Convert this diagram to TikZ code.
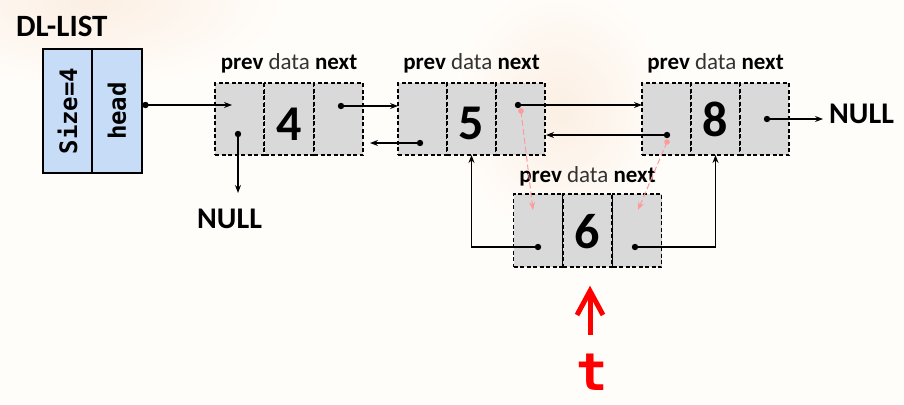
\documentclass[tikz,border=0pt]{standalone}
\usepackage{fontspec}
\setmainfont{Carlito}
\newfontfamily\monof{DejaVu Sans Mono}
\usetikzlibrary{arrows.meta,calc}
\definecolor{cellgray}{HTML}{D9D9D9}
\definecolor{boxblue}{HTML}{C6DCF7}
\definecolor{pinkline}{HTML}{FF9A9A}
\definecolor{tred}{HTML}{FF0000}
\definecolor{bgc}{HTML}{FFFDFA}
\definecolor{tint}{HTML}{FCEFE3}
\definecolor{datagray}{HTML}{333333}
\begin{document}
\begin{tikzpicture}[x=1pt,y=-1pt,
  cellbox/.style={draw=black,fill=cellgray,line width=1.5pt,dash pattern=on 4pt off 2.5pt,
    minimum width=49pt,minimum height=72pt,inner sep=0pt,outer sep=0pt},
  bluebox/.style={draw=black,fill=boxblue,line width=1.4pt,minimum height=124pt,inner sep=0pt,outer sep=0pt},
  monotext/.style={font=\monof\bfseries\fontsize{24}{24}\selectfont,rotate=90,inner sep=0pt},
  lbl/.style={font=\fontsize{23}{25}\selectfont,anchor=base,inner sep=0pt},
  digit/.style={font=\bfseries\fontsize{50}{50}\selectfont,anchor=base,inner sep=0pt},
  nulltxt/.style={font=\bfseries\fontsize{30}{30}\selectfont,anchor=base west,inner sep=0pt},
  conn/.style={-{Stealth[length=8pt,width=6pt]},line width=1.1pt},
  pinkconn/.style={-{Stealth[length=8pt,width=6pt]},draw=pinkline,line width=1pt,dash pattern=on 6pt off 3pt},
  dot/.style={fill=black},
  redline/.style={draw=tred,line width=5pt}
]
\useasboundingbox (0,0) rectangle (904,404);
\fill[bgc] (0,0) rectangle (904,404);
\begin{scope}
\clip (0,0) rectangle (904,404);
\shade[inner color=tint,outer color=bgc] (90,0) ellipse (200pt and 90pt);
\shade[inner color=tint,outer color=bgc] (560,110) ellipse (110pt and 130pt);
\end{scope}

% DL-LIST
\node[font=\bfseries\fontsize{31}{31}\selectfont,anchor=base west,inner sep=0pt] (title) at (16,37) {DL-LIST};
\node[bluebox,minimum width=49pt] (szc) at (67.5,111) {};
\node[bluebox,minimum width=50pt] (hdc) at (117,111) {};
\node[monotext] (sztxt) at (szc.center) {Size=4};
\node[monotext] (hdtxt) at (hdc.center) {head};

% node 4
\node[cellbox] (n4p) at (239.5,119) {};
\node[cellbox] (n4d) at (289,119) {};
\node[cellbox] (n4n) at (338.5,119) {};
% node 5
\node[cellbox] (n5p) at (422.5,119) {};
\node[cellbox] (n5d) at (471.5,119) {};
\node[cellbox] (n5n) at (520.5,119) {};
% node 8
\node[cellbox] (n8p) at (666.5,119) {};
\node[cellbox] (n8d) at (715.5,119) {};
\node[cellbox] (n8n) at (764.5,119) {};
% node 6
\node[cellbox,minimum height=73pt] (n6p) at (538,230.5) {};
\node[cellbox,minimum height=73pt] (n6d) at (587.5,230.5) {};
\node[cellbox,minimum height=73pt] (n6n) at (637,230.5) {};

% labels
\node[lbl] (l4) at (289,70) {\textbf{prev} \textcolor{datagray}{data} \textbf{next}};
\node[lbl] (l5) at (471.5,70) {\textbf{prev} \textcolor{datagray}{data} \textbf{next}};
\node[lbl] (l8) at (715.5,70) {\textbf{prev} \textcolor{datagray}{data} \textbf{next}};
\node[lbl] (l6) at (587.5,182) {\textbf{prev} \textcolor{datagray}{data} \textbf{next}};

% digits
\node[digit] (d4) at (289,140) {4};
\node[digit] (d5) at (471.5,139) {5};
\node[digit] (d8) at (715.5,136) {8};
\node[digit] (d6) at (587.5,248) {6};

% NULL texts
\node[nulltxt] (null1) at (197,228) {NULL};
\node[nulltxt] (null2) at (829,123) {NULL};

% dot coordinates
\coordinate (hdot) at (145.5,105);
\coordinate (n4pdot) at (238,134);
\coordinate (n4ndot) at (341,106);
\coordinate (n5pdot) at (420,143);
\coordinate (n5ndot) at (518,105);
\coordinate (n8pdot) at (667,135);
\coordinate (n8ndot) at (767,119);
\coordinate (n6pdot) at (538,247);
\coordinate (n6ndot) at (635,247);
\coordinate (pk1) at (521,111);
\coordinate (pk2) at (667,142);

% targets
\coordinate (t4p) at (232,105);
\coordinate (tnull1) at (238,193);
\coordinate (t5p) at (398,106);
\coordinate (t4n) at (370,143);
\coordinate (t8p) at (642,105);
\coordinate (t5n) at (546,135);
\coordinate (tnull2) at (823,119);
\coordinate (t6p) at (533,210);
\coordinate (t6n) at (638,210);

% pink dashed arrows
\draw[pinkconn] (pk1) -- (t6p);
\draw[pinkconn] (pk2) -- (t6n);
\fill[pinkline] (pk1) circle (2.8pt);
\fill[pinkline] (pk2) circle (2.8pt);

% black connectors
\draw[conn] (hdot) -- (t4p);
\draw[conn] (n4pdot) -- (tnull1);
\draw[conn] (n4ndot) -- (t5p);
\draw[conn] (n5pdot) -- (t4n);
\draw[conn] (n5ndot) -- (t8p);
\draw[conn] (n8pdot) -- (t5n);
\draw[conn] (n8ndot) -- (tnull2);
\draw[conn] (n6pdot) -- (n5d.south |- n6pdot) -- (n5d.south);
\draw[conn] (n6ndot) -- (n8d.south |- n6ndot) -- (n8d.south);

% dots
\foreach \c in {hdot,n4pdot,n4ndot,n5pdot,n5ndot,n8pdot,n8ndot,n6pdot,n6ndot}
  \fill[dot] (\c) circle (3.2pt);

% red pointer t
\node[font=\monof\bfseries\fontsize{52}{52}\selectfont,text=tred,anchor=base,inner sep=0pt] (tvar) at (592,390) {t};
\coordinate (rtip) at (590,291);
\coordinate (rbot) at (590,335);
\coordinate (rarmL) at ($(rtip)+(-13,24)$);
\coordinate (rarmR) at ($(rtip)+(13,24)$);
\draw[redline] (rbot) -- (rtip);
\draw[redline,miter limit=10] (rarmL) -- (rtip) -- (rarmR);
\end{tikzpicture}
\end{document}
